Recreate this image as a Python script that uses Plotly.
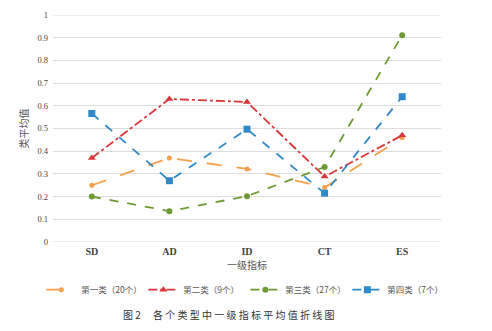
import plotly.graph_objects as go

categories = ["SD", "AD", "ID", "CT", "ES"]
series_names = ["第一类（20个）", "第二类（9个）", "第三类（27个）", "第四类（7个）"]
s1 = [0.25, 0.37, 0.322, 0.24, 0.46]
s2 = [0.37, 0.63, 0.617, 0.288, 0.47]
s3 = [0.20, 0.136, 0.202, 0.33, 0.911]
s4 = [0.566, 0.27, 0.497, 0.215, 0.64]
y_ticks = [0, 0.1, 0.2, 0.3, 0.4, 0.5, 0.6, 0.7, 0.8, 0.9, 1]
y_tick_labels = ["0", "0.1", "0.2", "0.3", "0.4", "0.5", "0.6", "0.7", "0.8", "0.9", "1"]

styles = [
    dict(color="#F5A04A", dash="longdash", symbol="circle", size=5),
    dict(color="#D8363A", dash="dashdot", symbol="triangle-up", size=7),
    dict(color="#6E9A34", dash="dash", symbol="circle", size=6),
    dict(color="#2F8AC9", dash="dash", symbol="square", size=7),
]
cjk = "Noto Sans CJK SC"
serif = "Liberation Serif"

fig = go.Figure()
for name, vals, st in zip(series_names, [s1, s2, s3, s4], styles):
    fig.add_trace(go.Scatter(
        x=categories, y=vals, name=name, mode="lines+markers",
        line=dict(color=st["color"], dash=st["dash"], width=1.8),
        marker=dict(color=st["color"], symbol=st["symbol"], size=st["size"]),
    ))

fig.update_layout(
    width=492, height=331,
    margin=dict(l=53, r=51, t=10, b=89),
    paper_bgcolor="white", plot_bgcolor="white",
    showlegend=True,
    legend=dict(orientation="h", x=-0.03, xanchor="left", y=-0.21, yanchor="middle",
                font=dict(family=cjk, size=8.5, color="#555555"),
                itemwidth=30, entrywidth=57, tracegroupgap=0),
    xaxis=dict(range=[-0.5, 4.5], showgrid=False, zeroline=False, showline=False,
               tickfont=dict(family=serif, size=10, color="#444444", weight="bold"),
               ticks="", ticklabelstandoff=2,
               title=dict(text="一级指标", font=dict(family=cjk, size=10, color="#555555"), standoff=4)),
    yaxis=dict(range=[0, 1], tickvals=y_ticks, ticktext=y_tick_labels,
               showgrid=True, gridcolor="#DDDDDD", gridwidth=1, zeroline=False, showline=False,
               tickfont=dict(family=serif, size=8.5, color="#444444"),
               ticks="", ticklabelstandoff=4,
               title=dict(text="类平均值", font=dict(family=cjk, size=10, color="#555555"), standoff=6)),
    annotations=[dict(text="图 2　 各 个 类 型 中 一 级 指 标 平 均 值 折 线 图", xref="paper", yref="paper",
                      x=(228 - 53) / 388, y=(242 - 316) / 232, xanchor="center", yanchor="middle",
                      showarrow=False, font=dict(family=cjk, size=10, color="#333333"))],
)
fig.add_hline(y=1, line=dict(color="#DDDDDD", width=1))
fig.add_hline(y=0, line=dict(color="#DDDDDD", width=1))

fig.write_html("out.html")
